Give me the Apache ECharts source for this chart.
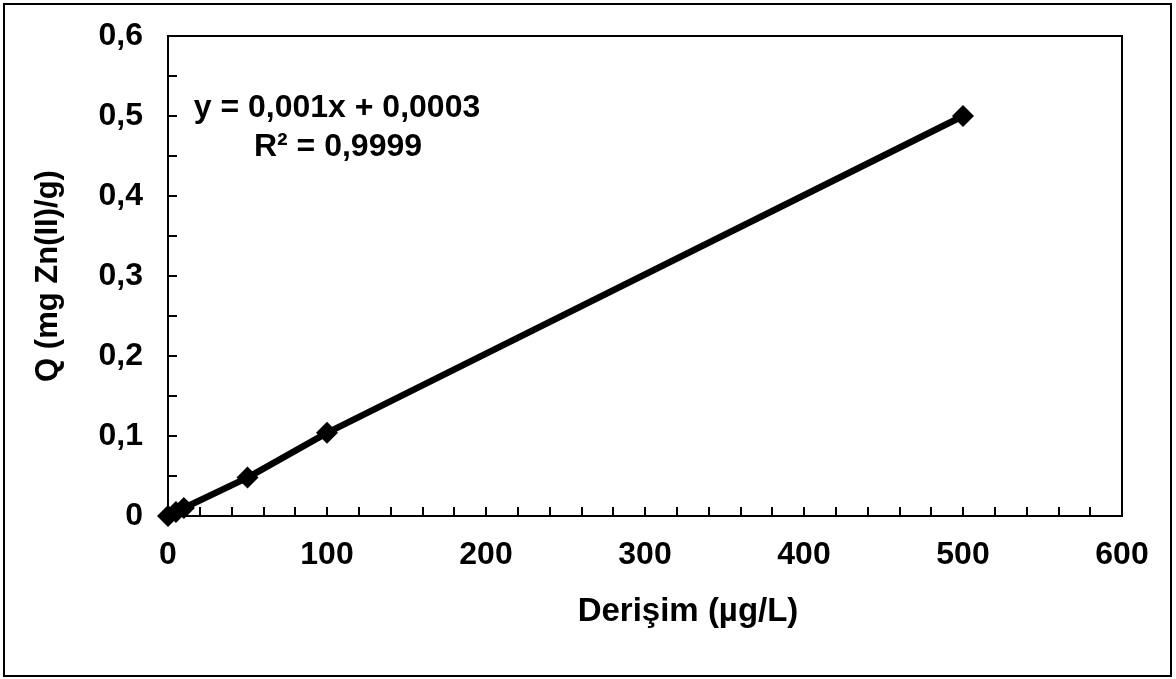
<!DOCTYPE html>
<html>
<head>
<meta charset="utf-8">
<script src="https://cdn.jsdelivr.net/npm/echarts@6/dist/echarts.min.js"></script>
<style>html,body{margin:0;padding:0;background:#fff}#c{width:1176px;height:679px}</style>
</head>
<body>
<div id="c"></div>
<script>
const xValues = [0, 5, 10, 50, 100, 500];
const yValues = [0, 0.005, 0.01, 0.048, 0.104, 0.5];
const xTicks = [0, 100, 200, 300, 400, 500, 600];
const yTicks = ['0', '0,1', '0,2', '0,3', '0,4', '0,5', '0,6'];
const equationLines = ['y = 0,001x + 0,0003', 'R² = 0,9999'];
const xTitle = 'Derişim (µg/L)';
const yTitle = 'Q (mg Zn(II)/g)';

const FONT = '"Liberation Sans", Arial, sans-serif';
const chart = echarts.init(document.getElementById('c'), null, {renderer: 'canvas'});
chart.setOption({
  backgroundColor: '#fff',
  animation: false,
  grid: {left: 168, right: 54, top: 36, bottom: 163, show: true, borderColor: '#000', borderWidth: 2, backgroundColor: 'transparent'},
  xAxis: {
    type: 'value', min: 0, max: 600, interval: 100,
    name: xTitle, nameLocation: 'middle', nameGap: 79,
    nameTextStyle: {fontFamily: FONT, fontWeight: 'bold', fontSize: 33, color: '#000', padding: [0, 0, 0, 86]},
    axisLine: {show: true, lineStyle: {color: '#000', width: 2}},
    axisTick: {show: true, inside: true, length: 9, lineStyle: {color: '#000', width: 2}},
    minorTick: {show: true, splitNumber: 5, length: 9, lineStyle: {color: '#000', width: 2}},
    splitLine: {show: false},
    axisLabel: {fontFamily: FONT, fontWeight: 'bold', fontSize: 32, color: '#000', margin: 23,
      formatter: v => String(xTicks[xTicks.indexOf(v)])}
  },
  yAxis: {
    type: 'value', min: 0, max: 0.6, interval: 0.1,
    name: yTitle, nameLocation: 'middle', nameGap: 104, nameRotate: 90,
    nameTextStyle: {fontFamily: FONT, fontWeight: 'bold', fontSize: 31, color: '#000'},
    axisLine: {show: true, lineStyle: {color: '#000', width: 2}},
    axisTick: {show: true, inside: true, length: 9, lineStyle: {color: '#000', width: 2}},
    minorTick: {show: true, splitNumber: 2, length: 9, lineStyle: {color: '#000', width: 2}},
    splitLine: {show: false},
    axisLabel: {fontFamily: FONT, fontWeight: 'bold', fontSize: 32, color: '#000', margin: 25,
      formatter: v => yTicks[Math.round(v * 10)]}
  },
  series: [{
    type: 'line',
    data: xValues.map((x, i) => [x, yValues[i]]),
    symbol: 'diamond', symbolSize: 22,
    lineStyle: {color: '#000', width: 6.5},
    itemStyle: {color: '#000'},
    clip: false
  }],
  graphic: [
    {type: 'rect', shape: {x: 4, y: 4, width: 1167, height: 672}, style: {fill: 'none', stroke: '#000', lineWidth: 2}, z: -1},
    {type: 'text', x: 337, y: 108, style: {text: equationLines[0], font: 'bold 32px ' + FONT, fill: '#000', textAlign: 'center', textVerticalAlign: 'middle'}},
    {type: 'text', x: 338, y: 147, style: {text: equationLines[1], font: 'bold 32px ' + FONT, fill: '#000', textAlign: 'center', textVerticalAlign: 'middle'}}
  ]
});
</script>
</body>
</html>
